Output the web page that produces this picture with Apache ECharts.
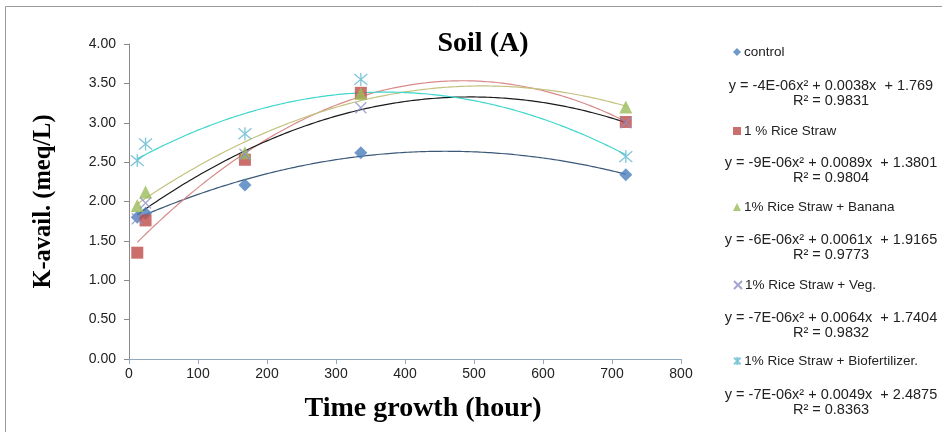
<!DOCTYPE html>
<html><head><meta charset="utf-8">
<script src="https://cdn.jsdelivr.net/npm/echarts@6/dist/echarts.min.js"></script>
<style>html,body{margin:0;padding:0;background:#fff}#c{width:942px;height:432px}</style>
</head><body><div id="c"></div>
<script>
const hours = [12, 24, 168, 336, 720];
const seriesNames = ['control', '1 % Rice Straw', '1% Rice Straw + Banana', '1% Rice Straw + Veg.', '1% Rice Straw + Biofertilizer.'];
const controlVals = [1.80, 1.85, 2.21, 2.62, 2.34];
const riceStrawVals = [1.35, 1.76, 2.53, 3.38, 3.01];
const bananaVals = [1.95, 2.12, 2.62, 3.37, 3.20];
const vegVals = [1.78, 1.98, 2.60, 3.19, 3.00];
const bioVals = [2.52, 2.73, 2.86, 3.55, 2.57];
const equations = [
  'y = -4E-06x² + 0.0038x  + 1.769\nR² = 0.9831',
  'y = -9E-06x² + 0.0089x  + 1.3801\nR² = 0.9804',
  'y = -6E-06x² + 0.0061x  + 1.9165\nR² = 0.9773',
  'y = -7E-06x² + 0.0064x  + 1.7404\nR² = 0.9832',
  'y = -7E-06x² + 0.0049x  + 2.4875\nR² = 0.8363'
];
const yTicks = ['0.00','0.50','1.00','1.50','2.00','2.50','3.00','3.50','4.00'];

const allVals = [controlVals, riceStrawVals, bananaVals, vegVals, bioVals];
const markerColors = ['#4a7ebb', '#be4b48', '#9bbb59', '#8d8fc4', '#5fb8d0'];
const trendColors = ['#3b5878', '#d98a8a', '#c4c27e', '#1a1a1a', '#3fd6cc'];
const symbols = ['diamond', 'rect', 'triangle',
  'path://M0,0L10,10M10,0L0,10',
  'path://M0,0L10,10M10,0L0,10M5,-1L5,11'];
const symSizes = [13, 12, 13, 11, 13];

// least-squares quadratic fit (Excel polynomial trendline, order 2)
function quadFit(xs, ys) {
  let S = [0,0,0,0,0], T = [0,0,0];
  for (let i = 0; i < xs.length; i++) {
    let p = 1;
    for (let k = 0; k < 5; k++) { S[k] += p; if (k < 3) T[k] += p * ys[i]; p *= xs[i]; }
  }
  const M = [[S[0],S[1],S[2],T[0]],[S[1],S[2],S[3],T[1]],[S[2],S[3],S[4],T[2]]];
  for (let i = 0; i < 3; i++) {
    for (let j = i + 1; j < 3; j++) {
      const f = M[j][i] / M[i][i];
      for (let k = i; k < 4; k++) M[j][k] -= f * M[i][k];
    }
  }
  const c = [0,0,0];
  for (let i = 2; i >= 0; i--) {
    let s = M[i][3];
    for (let k = i + 1; k < 3; k++) s -= M[i][k] * c[k];
    c[i] = s / M[i][i];
  }
  return c;
}

const series = [];
allVals.forEach((vals, i) => {
  const c = quadFit(hours, vals);
  const pts = [];
  for (let x = hours[0]; x <= hours[hours.length-1]; x += 4) pts.push([x, c[0] + c[1]*x + c[2]*x*x]);
  series.push({
    type: 'line', name: seriesNames[i] + ' trend', data: pts, showSymbol: false, symbol: 'none',
    lineStyle: { color: trendColors[i], width: 1.2 }, silent: true, z: 2
  });
});
allVals.forEach((vals, i) => {
  const isPath = i >= 3;
  series.push({
    type: 'scatter', name: seriesNames[i],
    data: hours.map((h, j) => [h, vals[j]]),
    symbol: symbols[i], symbolSize: symSizes[i],
    itemStyle: isPath ? { color: 'rgba(0,0,0,0)', borderColor: markerColors[i], borderWidth: 1.3 }
                      : { color: markerColors[i] },
    z: 3
  });
});

const legendTops = [40, 119, 195, 273, 349];
const eqTops = [78, 155, 232, 310, 387];
const legends = seriesNames.map((n, i) => ({
  data: [{ name: n, icon: symbols[i] }], left: 728, top: legendTops[i],
  orient: 'vertical', itemWidth: 8, itemHeight: 8, itemGap: 0,
  selectedMode: false,
  textStyle: { fontFamily: 'Liberation Sans, Arial', fontSize: 13.5, color: '#222', padding: [0,0,0,-2] }
}));

const graphics = [
  { type: 'rect', shape: { x: 5.5, y: 6.5, width: 960, height: 460 }, style: { fill: 'none', stroke: '#9a9a9a', lineWidth: 1 }, silent: true, z: -1 }
];
equations.forEach((t, i) => {
  graphics.push({ type: 'text', style: {
    x: 831, y: eqTops[i], text: t, align: 'center', verticalAlign: 'top',
    font: '14.5px "Liberation Sans", Arial', fill: '#222', lineHeight: 15 } });
});

const chart = echarts.init(document.getElementById('c'), null, { renderer: 'canvas' });
chart.setOption({
  animation: false,
  backgroundColor: '#fff',
  title: { text: 'Soil (A)', left: 478, top: 25, textAlign: 'center',
    textStyle: { fontFamily: 'Liberation Serif, Times New Roman', fontWeight: 'bold', fontSize: 28, color: '#000' } },
  grid: { left: 129, top: 44, width: 552, height: 315 },
  legend: legends,
  xAxis: {
    type: 'value', min: 0, max: 800, interval: 100,
    name: 'Time growth (hour)', nameLocation: 'middle', nameGap: 36,
    nameTextStyle: { fontFamily: 'Liberation Serif, Times New Roman', fontWeight: 'bold', fontSize: 28, color: '#000', padding: [0, 0, 0, 36] },
    axisLine: { lineStyle: { color: '#93a9c0', width: 1 } },
    axisTick: { show: true, length: 5, lineStyle: { color: '#93a9c0' } },
    axisLabel: { fontFamily: 'Liberation Sans, Arial', fontSize: 14, color: '#222', margin: 8 },
    splitLine: { show: false }
  },
  yAxis: {
    type: 'value', min: 0, max: 4, interval: 0.5,
    name: 'K-avail. (meq/L)', nameLocation: 'middle', nameGap: 73, nameRotate: 90,
    nameTextStyle: { fontFamily: 'Liberation Serif, Times New Roman', fontWeight: 'bold', fontSize: 24.5, color: '#000', padding: [0, 0, 0, 0] },
    axisLine: { show: true, lineStyle: { color: '#8a8a8a', width: 1 } },
    axisTick: { show: true, length: 5, lineStyle: { color: '#8a8a8a' } },
    axisLabel: { fontFamily: 'Liberation Sans, Arial', fontSize: 14, color: '#222', margin: 13,
      formatter: v => yTicks[Math.round(v / 0.5)] },
    splitLine: { show: false }
  },
  graphic: graphics,
  series: series
});
</script></body></html>
